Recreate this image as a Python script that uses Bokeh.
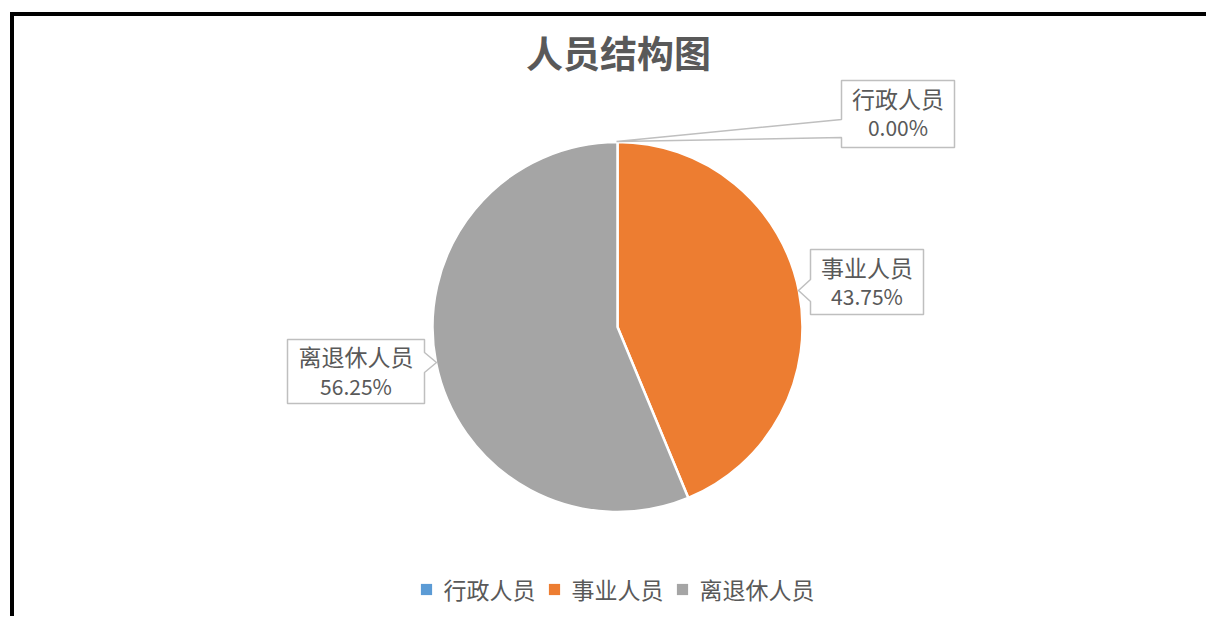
import math
from bokeh.plotting import figure
from bokeh.models import ColumnDataSource, Range1d, Legend, LegendItem, BoxAnnotation
from bokeh.core.properties import value
from bokeh.embed import file_html
from bokeh.resources import INLINE

# ---- data ----
title_text = "人员结构图"
categories = ["行政人员", "事业人员", "离退休人员"]
counts = [0, 7, 9]
colors = ["#5B9BD5", "#ED7D31", "#A5A5A5"]

FONT = "Noto Sans CJK SC"
TXT = "#595959"

W, H = 1206, 616


def X(px):
    return px


def Y(py):
    return H - py


p = figure(width=W, height=H, x_range=Range1d(0, W), y_range=Range1d(0, H),
           output_backend="svg", toolbar_location=None, min_border=0,
           x_axis_location=None, y_axis_location=None)
p.grid.visible = False
p.outline_line_color = None
p.background_fill_color = "white"
p.border_fill_color = "white"

# outer frame (cropped screenshot border)
p.add_layout(BoxAnnotation(left=X(11.5), right=3000, top=Y(13.5), bottom=-3000,
                           fill_alpha=0, line_color="black", line_alpha=1.0,
                           line_width=4, line_join="miter"))

# ---- pie ----
total = sum(counts)
starts, ends = [], []
cum = 0
for c in counts:
    starts.append(math.pi / 2 - 2 * math.pi * cum / total)
    cum += c
    ends.append(math.pi / 2 - 2 * math.pi * cum / total)
pct = [f"{c / total * 100:.2f}%" for c in counts]

src = ColumnDataSource(dict(cat=categories, count=counts, start=starts, end=ends,
                            color=colors, pct=pct))
cx, cy, R = X(617), Y(326.5), 185
p.wedge(x=cx, y=cy, radius=R, start_angle="start", end_angle="end",
        direction="clock", fill_color="color", line_color="white",
        line_width=2.5, source=src)

# ---- title ----
p.text(x=[X(618)], y=[Y(51.5)], text=[title_text], text_font=value(FONT),
       text_font_style="bold", text_font_size="37px", text_color=TXT,
       text_align="center", text_baseline="middle")

# ---- callout labels ----
callouts = [
    dict(l=841, r=954, t=80, b=147, side="left", p1=119, p2=137, tip=(616, 141)),
    dict(l=810, r=923, t=249, b=314, side="left", p1=279, p2=301, tip=(798, 290)),
    dict(l=287, r=424, t=339, b=403, side="right", p1=352, p2=372, tip=(436, 362)),
]
xs, ys = [], []
for c in callouts:
    l, r, t, b = c["l"], c["r"], c["t"], c["b"]
    tx, ty = c["tip"]
    if c["side"] == "left":
        pts = [(l, t), (r, t), (r, b), (l, b), (l, c["p2"]), (tx, ty), (l, c["p1"])]
    else:
        pts = [(l, t), (r, t), (r, c["p1"]), (tx, ty), (r, c["p2"]), (r, b), (l, b)]
    xs.append([X(a) for a, _ in pts])
    ys.append([Y(bb) for _, bb in pts])
p.patches(xs=xs, ys=ys, fill_color="white", line_color="#BFBFBF", line_width=1.5)

label_cx = [X(897.5), X(866.5), X(355.5)]
name_y = [Y(97), Y(266), Y(355)]
pct_y = [Y(126), Y(295), Y(385)]
p.text(x=label_cx, y=name_y, text=categories, text_font=value(FONT),
       text_font_size="23px", text_color=TXT, text_align="center", text_baseline="middle")
p.text(x=label_cx, y=pct_y, text=pct, text_font=value(FONT),
       text_font_size="21px", text_color=TXT, text_align="center", text_baseline="middle")

# ---- legend ----
items = []
for cat, col in zip(categories, colors):
    r = p.scatter(x=[float("nan")], y=[float("nan")], marker="square", size=11,
                  fill_color=col, line_color=None)
    items.append(LegendItem(label=cat, renderers=[r]))
legend = Legend(items=items, orientation="horizontal", location=(X(411.5), 10),
                glyph_width=28, glyph_height=34, label_height=34,
                label_standoff=4, spacing=4, padding=0, margin=0,
                border_line_color=None, background_fill_alpha=0,
                label_text_font=FONT, label_text_font_size="23px",
                label_text_color=TXT)
p.add_layout(legend)

open("out.html", "w").write(file_html(p, INLINE))
